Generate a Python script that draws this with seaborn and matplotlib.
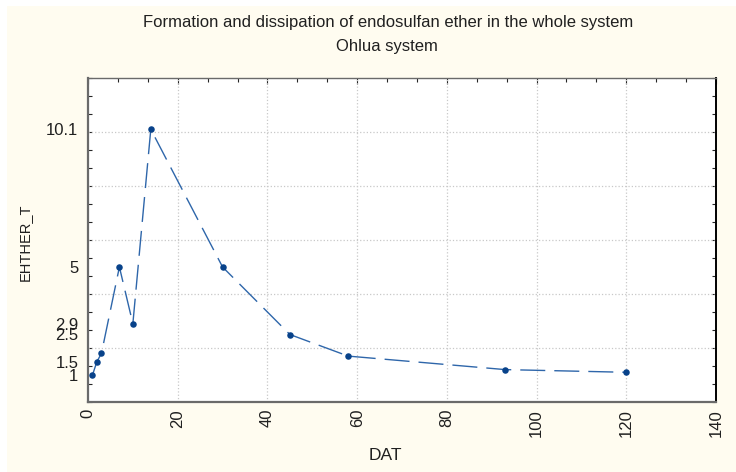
import numpy as np
import pandas as pd
import matplotlib
matplotlib.use('Agg')
import matplotlib.pyplot as plt
import seaborn as sns
from matplotlib.patches import Rectangle

# values
dat = [1, 2, 3, 7, 10, 14, 30, 45, 58, 93, 120]
ether_t = [1.0, 1.5, 1.8, 5.0, 2.9, 10.1, 5.0, 2.5, 1.7, 1.2, 1.1]
ytick_vals = [1, 1.5, 2.5, 2.9, 5, 10.1]
ytick_labels = ['1', '1.5', '2.5', '2.9', '5', '10.1']
xtick_vals = [0, 20, 40, 60, 80, 100, 120, 140]
grid_y = [2, 4, 6, 8, 10]
grid_x = [20, 40, 60, 80, 100, 120]

df = pd.DataFrame({'DAT': dat, 'EHTHER_T': ether_t})

sns.set_style('white')
plt.rcParams['font.family'] = ['Liberation Sans', 'DejaVu Sans']

fig = plt.figure(figsize=(7.36, 4.72), dpi=100)
fig.patch.set_facecolor('white')
fig.patches.append(Rectangle((7 / 736, 0), 1, 1 - 6 / 472, transform=fig.transFigure,
                             facecolor='#FFFCF0', edgecolor='none', zorder=-5))

ax = fig.add_axes([88 / 736, 1 - 402 / 472, 628 / 736, 324 / 472])
ax.set_zorder(1)
ax.set_facecolor('white')

sns.lineplot(data=df, x='DAT', y='EHTHER_T', ax=ax, color='#2E66AA', linewidth=1.0,
             dashes=False, zorder=3)
ax.lines[0].set_dashes((18, 6.5))
sns.scatterplot(data=df, x='DAT', y='EHTHER_T', ax=ax, color='#08428A', s=22,
                edgecolor='#08428A', linewidth=0, zorder=4)

ax.set_xlim(0, 140)
ax.set_ylim(0, 12)

for g in grid_y:
    ax.axhline(g, color='#C8C8C8', linestyle=':', linewidth=0.9, zorder=1)
for g in grid_x:
    ax.axvline(g, color='#C8C8C8', linestyle=':', linewidth=0.9, zorder=1)

ax.set_xticks(xtick_vals)
ax.set_xticklabels([str(v) for v in xtick_vals], rotation=90, fontsize=12, color='#202020')
ax.set_yticks(ytick_vals)
ax.set_yticklabels(ytick_labels, fontsize=12, color='#202020')
ax.set_xticks(np.arange(0, 141, 20 / 3), minor=True)
ax.set_yticks(np.arange(0, 12.01, 2 / 3), minor=True)
ax.tick_params(which='major', axis='y', length=0, pad=7)
ax.tick_params(which='major', axis='x', length=4, direction='in', top=True, pad=5, width=0.8)
ax.tick_params(which='minor', length=3, direction='in', top=True, right=True, width=0.8)
ax.tick_params(which='minor', axis='y', left=True)

for side in ['left', 'bottom', 'top']:
    ax.spines[side].set_color('#6A6A6A')
ax.spines['left'].set_linewidth(1.6)
ax.spines['bottom'].set_linewidth(1.6)
ax.spines['top'].set_linewidth(1.0)
ax.spines['right'].set_color('#000000')
ax.spines['right'].set_linewidth(1.4)

ax.set_xlabel('DAT', fontsize=12.5, color='#202020')
ax.set_ylabel('EHTHER_T', fontsize=10.5, color='#202020')
ax.xaxis.set_label_coords((385 - 88) / 628, -(448 - 402) / 324)
ax.yaxis.set_label_coords(-(88 - 32) / 628, (402 - 242) / 324)

fig.text(388 / 736, 1 - 22 / 472, 'Formation and dissipation of endosulfan ether in the whole system',
         ha='center', va='center', fontsize=12, color='#202020')
fig.text(387 / 736, 1 - 47 / 472, 'Ohlua system', ha='center', va='center', fontsize=12, color='#202020')

fig.savefig('out.png', dpi=100, facecolor=fig.get_facecolor())
